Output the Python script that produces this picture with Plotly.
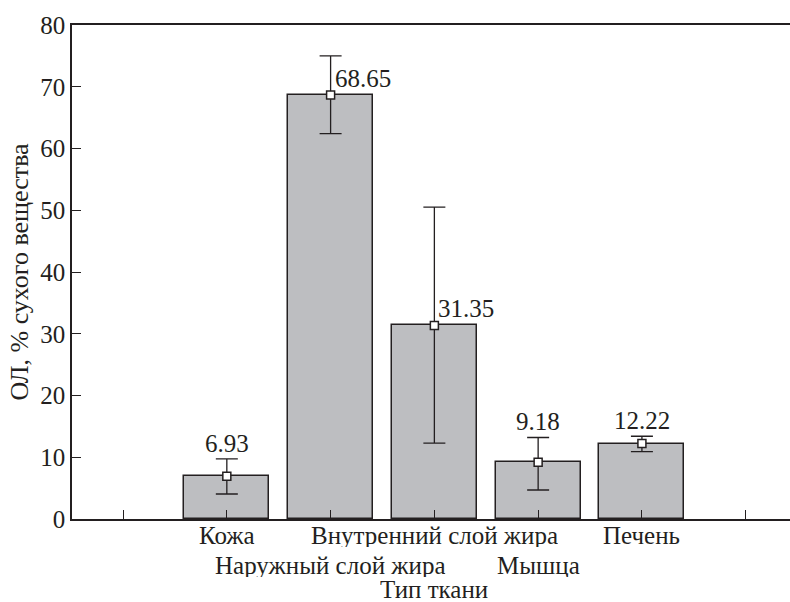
import plotly.graph_objects as go

categories = ["Кожа", "Наружный слой жира", "Внутренний слой жира", "Мышца", "Печень"]
means = [6.93, 68.65, 31.35, 9.18, 12.22]
err_upper = [9.75, 75.0, 50.5, 13.2, 13.4]
err_lower = [4.05, 62.4, 12.3, 4.7, 10.9]
label_text = ["6.93", "68.65", "31.35", "9.18", "12.22"]
label_row = [0, 1, 0, 1, 0]  # staggered tick label rows

FONT = "Liberation Serif"
DARK = "#231f20"

xs = list(range(1, len(categories) + 1))
plus = [u - m for u, m in zip(err_upper, means)]
minus = [m - l for m, l in zip(means, err_lower)]

fig = go.Figure()
fig.add_trace(go.Bar(
    x=xs, y=means, width=0.82,
    marker=dict(color="#bdbec1", line=dict(color=DARK, width=1.5)),
    showlegend=False,
))
fig.add_trace(go.Scatter(
    x=xs, y=means, mode="markers",
    marker=dict(symbol="square", size=8, color="white", line=dict(color=DARK, width=1.5)),
    error_y=dict(type="data", symmetric=False, array=plus, arrayminus=minus,
                 color=DARK, thickness=1.3, width=11),
    showlegend=False,
))

# value labels
for i, (x, m, u, t) in enumerate(zip(xs, means, err_upper, label_text)):
    if i in (1, 2):
        fig.add_annotation(x=x, y=m, text=t, showarrow=False, xanchor="left",
                           yanchor="bottom", xshift=2, yshift=1,
                           font=dict(family=FONT, size=25, color=DARK))
    else:
        fig.add_annotation(x=x, y=u, text=t, showarrow=False, xanchor="center",
                           yanchor="bottom", yshift=0,
                           font=dict(family=FONT, size=25, color=DARK))

# staggered category labels
for x, c, r in zip(xs, categories, label_row):
    fig.add_annotation(x=x, xref="x", y=0, yref="paper", text=c, showarrow=False,
                       xanchor="center", yanchor="middle", yshift=-16 - 30 * r,
                       height=24, borderpad=0,
                       font=dict(family=FONT, size=25, color=DARK))
# x axis title
fig.add_annotation(x=(xs[0] + xs[-1]) / 2, xref="x", y=0, yref="paper", text="Тип ткани",
                   showarrow=False, xanchor="center", yanchor="bottom", yshift=-83,
                   height=24, borderpad=0,
                   font=dict(family=FONT, size=25, color=DARK))

fig.update_layout(
    width=790, height=602,
    margin=dict(l=72, r=0, t=25, b=83),
    plot_bgcolor="white", paper_bgcolor="white",
    font=dict(family=FONT, size=25, color=DARK),
    bargap=0,
)
fig.update_xaxes(
    range=[-0.492, 6.427],
    tickvals=[0] + xs + [len(xs) + 1],
    showticklabels=False, automargin=False,
    ticks="inside", ticklen=9, tickwidth=1.3, tickcolor=DARK,
    showline=True, linecolor=DARK, linewidth=1.5, mirror=True,
    showgrid=False, zeroline=False,
)
fig.update_yaxes(
    range=[0, 80], tickvals=list(range(0, 81, 10)),
    automargin=False,
    ticks="inside", ticklen=9, tickwidth=1.3, tickcolor=DARK,
    showline=True, linecolor=DARK, linewidth=1.5,
    showgrid=False, zeroline=False,
    title=dict(text="ОЛ, % сухого вещества", font=dict(family=FONT, size=26), standoff=4),
    tickfont=dict(family=FONT, size=25),
)

fig.write_html("out.html")
